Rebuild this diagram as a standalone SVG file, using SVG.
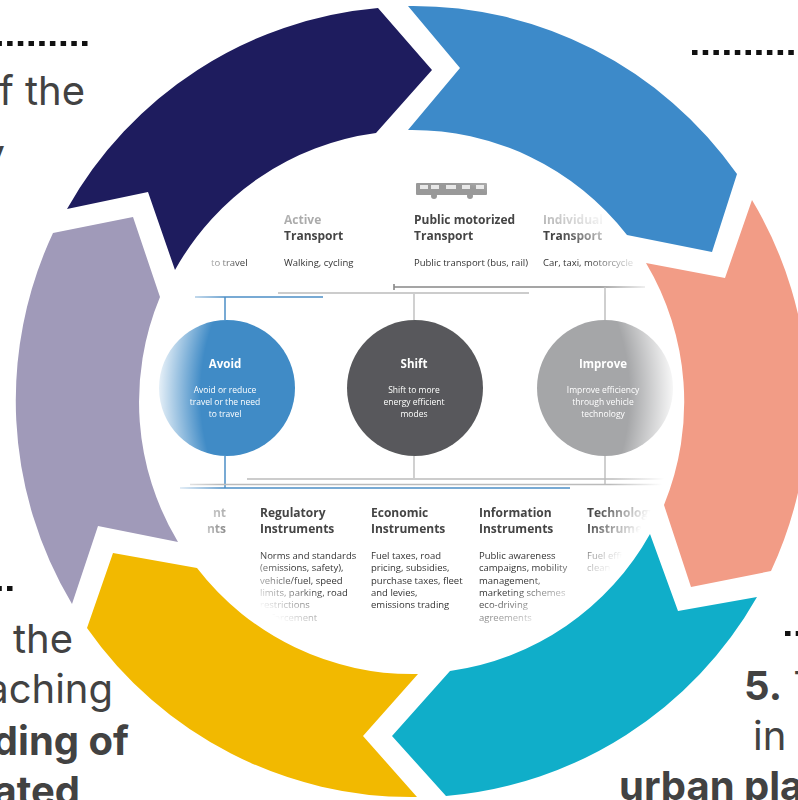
<svg xmlns="http://www.w3.org/2000/svg" width="798" height="800" viewBox="0 0 798 800">
<style>
.big{font-family:"Inter","Noto Sans",sans-serif;font-size:40px;fill:#424242}
.bold{font-weight:700}
.head{font-family:"Open Sans","Noto Sans",sans-serif;font-size:12px;font-weight:700;fill:#444}
.desc{font-family:"Open Sans","Noto Sans",sans-serif;font-size:9.500px;fill:#333}
.ct{font-family:"Open Sans","Noto Sans",sans-serif;fill:#fff;text-anchor:middle}
.dots{stroke:#111;stroke-width:5;stroke-dasharray:5.500 5.200;fill:none}
.seg{stroke:none}
</style>
<defs>
<filter id="soft" x="-5%" y="-5%" width="110%" height="110%"><feGaussianBlur stdDeviation="0.750"/></filter>
<radialGradient id="fade" gradientUnits="userSpaceOnUse" cx="415" cy="395" r="268">
<stop offset="0.8" stop-color="#fff" stop-opacity="0"/><stop offset="0.98" stop-color="#fff" stop-opacity="1"/>
</radialGradient>
</defs>
<rect width="798" height="800" fill="#fff"/>
<g id="inner" filter="url(#soft)">
<g id="bus" fill="#999"><rect x="416" y="183" width="71" height="12" rx="1"/><rect x="420" y="185" width="8" height="4" fill="#e8e8e8"/><rect x="431" y="185" width="8" height="4" fill="#e8e8e8"/><rect x="446" y="185" width="10" height="4" fill="#e8e8e8"/><rect x="462" y="185" width="8" height="4" fill="#e8e8e8"/><rect x="476" y="185" width="8" height="4" fill="#e8e8e8"/><circle cx="434" cy="196" r="3"/><circle cx="470" cy="196" r="3"/></g>
<g id="connectors" fill="none">
<path d="M195 297H323M225 297V320M225 456V488M180 488H570" stroke="#4c8fc6" stroke-width="1.500"/>
<path d="M278 293H529M414 293V320M414 456V480M247 479H665" stroke="#ccc" stroke-width="1.800"/>
<path d="M394 287H645M394 284V290" stroke="#888" stroke-width="1.600"/>
<path d="M605 287V320M605 456V485M190 484.500H665" stroke="#bbb" stroke-width="1.400"/>
</g>
<g id="top-labels">
<text class="head" x="284" y="224" fill-opacity="0.45">Active</text><text class="head" x="284" y="240">Transport</text>
<text class="desc" x="284" y="266">Walking, cycling</text>
<text class="desc" x="211" y="266">to travel</text>
<text class="head" x="414" y="224">Public motorized</text><text class="head" x="414" y="240">Transport</text>
<text class="desc" x="414" y="266">Public transport (bus, rail)</text>
<text class="head" x="543" y="224" fill-opacity="0.4">Individual</text><text class="head" x="543" y="240">Transport</text>
<text class="desc" x="543" y="266">Car, taxi, motorcycle</text>
</g>
<g id="avoid"><circle cx="227" cy="388" r="68" fill="#3f8bc6"/><text class="ct" x="225" y="368" font-size="11.500" font-weight="700">Avoid</text><text class="ct" x="225" y="393" font-size="8.500">Avoid or reduce</text><text class="ct" x="225" y="405" font-size="8.500">travel or the need</text><text class="ct" x="225" y="417" font-size="8.500">to travel</text></g>
<g id="shift"><circle cx="415" cy="388" r="68" fill="#58595b"/><text class="ct" x="414" y="368" font-size="11.500" font-weight="700">Shift</text><text class="ct" x="414" y="393" font-size="8.500">Shift to more</text><text class="ct" x="414" y="405" font-size="8.500">energy efficient</text><text class="ct" x="414" y="417" font-size="8.500">modes</text></g>
<g id="improve"><circle cx="605" cy="388" r="68" fill="#a5a6a8"/><text class="ct" x="603" y="368" font-size="11.500" font-weight="700">Improve</text><text class="ct" x="603" y="393" font-size="8.500">Improve efficiency</text><text class="ct" x="603" y="405" font-size="8.500">through vehicle</text><text class="ct" x="603" y="417" font-size="8.500">technology</text></g>
<g id="instruments">
<text class="head" x="226" y="517" text-anchor="end" fill-opacity="0.5">nt</text><text class="head" x="226" y="533" text-anchor="end">nts</text>
<text class="head" x="260" y="517">Regulatory</text><text class="head" x="260" y="533">Instruments</text>
<text class="desc" x="260" y="559">Norms and standards</text><text class="desc" x="260" y="571">(emissions, safety),</text><text class="desc" x="260" y="584">vehicle/fuel, speed</text><text class="desc" x="260" y="596">limits, parking, road</text><text class="desc" x="260" y="608">restrictions</text><text class="desc" x="260" y="621">enforcement</text>
<text class="head" x="371" y="517">Economic</text><text class="head" x="371" y="533">Instruments</text>
<text class="desc" x="371" y="559">Fuel taxes, road</text><text class="desc" x="371" y="571">pricing, subsidies,</text><text class="desc" x="371" y="584">purchase taxes, fleet</text><text class="desc" x="371" y="596">and levies,</text><text class="desc" x="371" y="608">emissions trading</text>
<text class="head" x="479" y="517">Information</text><text class="head" x="479" y="533">Instruments</text>
<text class="desc" x="479" y="559">Public awareness</text><text class="desc" x="479" y="571">campaigns, mobility</text><text class="desc" x="479" y="584">management,</text><text class="desc" x="479" y="596">marketing schemes</text><text class="desc" x="479" y="608">eco-driving</text><text class="desc" x="479" y="621">agreements</text>
<text class="head" x="587" y="517">Technology</text><text class="head" x="587" y="533">Instruments</text>
<text class="desc" x="587" y="559">Fuel efficiency</text><text class="desc" x="587" y="571">clean</text>
</g>
</g>
<rect id="vignette" width="798" height="800" fill="url(#fade)"/>
<g id="ring">
<g id="seg-navy"><path class="seg" fill="#1e1c5e" d="M67 209A396 396 0 0 1 378 8L432 70L376 133A271 271 0 0 0 175 270L148 192Z"/></g>
<g id="seg-blue"><path class="seg" fill="#3d8ac9" d="M408 6A396 396 0 0 1 737 174L712 252L627 235A272 272 0 0 0 408 130L460 68Z"/></g>
<g id="seg-salmon"><path class="seg" fill="#f29c86" d="M752 200A396 396 0 0 1 771 571L691 587L664 505A272 272 0 0 0 646 263L725 278Z"/></g>
<g id="seg-teal"><path class="seg" fill="#10aec9" d="M757 597A396 396 0 0 1 446 796L392 736L450 671A272 272 0 0 0 650 534L678 611Z"/></g>
<g id="seg-gold"><path class="seg" fill="#f2b900" d="M417 797A396 396 0 0 1 87 628L113 553L197 568A272 272 0 0 0 418 674L363 736Z"/></g>
<g id="seg-lavender"><path class="seg" fill="#a09ab9" d="M72 604A396 396 0 0 1 53 233L133 217L160 297A272 272 0 0 0 178 542L98 526Z"/></g>
</g>
<g id="text-1"><path class="dots" d="M87.500 43.500H0"/><text class="big" x="85" y="105" text-anchor="end">f the</text><text class="big" x="5" y="168" text-anchor="end">y</text></g>
<g id="text-2"><path class="dots" d="M692 52.500H798"/></g>
<g id="text-4"><path class="dots" d="M12.500 588.500H0"/><text class="big" x="73" y="653" text-anchor="end">the</text><text class="big" x="113" y="703" text-anchor="end">aching</text><text class="big bold" x="129" y="755" text-anchor="end">ding of</text><text class="big bold" x="80" y="805" text-anchor="end">ated</text></g>
<g id="text-5"><path class="dots" d="M785 633.500H798"/><text class="big" x="744" y="700"><tspan class="bold">5.</tspan> T</text><text class="big" x="753" y="750">in</text><text class="big bold" x="619" y="800">urban pla</text></g>
</svg>
